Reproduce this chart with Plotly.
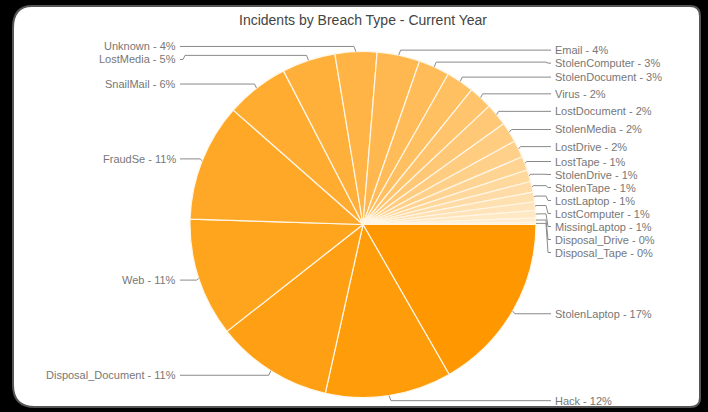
import math
import plotly.graph_objects as go

# ---- data ----
categories = ["StolenLaptop", "Hack", "Disposal_Document", "Web", "FraudSe", "SnailMail",
              "LostMedia", "Unknown", "Email", "StolenComputer", "StolenDocument", "Virus",
              "LostDocument", "StolenMedia", "LostDrive", "LostTape", "StolenDrive",
              "StolenTape", "LostLaptop", "LostComputer", "MissingLaptop",
              "Disposal_Drive", "Disposal_Tape"]
values = [16.7, 11.8, 10.9, 11.1, 11.0, 5.9, 5.0, 3.9, 4.0, 2.9, 2.6, 2.2, 2.1, 1.9, 1.6,
          1.3, 1.1, 1.0, 0.9, 0.8, 0.7, 0.4, 0.2]
pct_labels = [17, 12, 11, 11, 11, 6, 5, 4, 4, 3, 3, 2, 2, 2, 2, 1, 1, 1, 1, 1, 1, 0, 0]
title_text = "Incidents by Breach Type - Current Year"

# ---- layout constants (pixels) ----
W, H = 708, 412
CX, CY, R = 363, 224.5, 173
LBL_R = 1.03
RIGHT_X, LEFT_X = 553, 178
MIN_GAP = 13
LINE_COLOR = "#8a8a8a"
TEXT_COLOR = "#777777"
FONT = "Liberation Sans, Arial, sans-serif"

def px(x):
    return x / W

def py(y):
    return 1 - y / H

# colours: dark orange to pale cream by slice index
n = len(values)
c0, c1 = (255, 152, 0), (255, 240, 216)
colors = []
for i in range(n):
    t = i / (n - 1)
    colors.append("rgb(%d,%d,%d)" % tuple(round(a + (b - a) * t) for a, b in zip(c0, c1)))

fig = go.Figure()
fig.add_trace(go.Pie(
    labels=categories, values=values, sort=False, direction="clockwise", rotation=90,
    textinfo="none", hoverinfo="label+percent",
    marker=dict(colors=colors, line=dict(color="#FFF6E6", width=1.2)),
    domain=dict(x=[px(CX - R), px(CX + R)], y=[py(CY + R), py(CY - R)]),
    showlegend=False,
))

# compute label geometry from data
total = sum(values)
items = []
cum = 0.0
for name, v, p in zip(categories, values, pct_labels):
    mid = (cum + v / 2) / total * 2 * math.pi
    cum += v
    ex, ey = CX + R * math.cos(mid), CY + R * math.sin(mid)
    ny = CY + LBL_R * R * math.sin(mid)
    side = 1 if math.cos(mid) >= 0 else -1
    items.append(dict(name=name, p=p, ex=ex, ey=ey, ny=ny, side=side))

for side in (1, -1):
    grp = sorted([it for it in items if it["side"] == side], key=lambda d: d["ny"])
    prev = None
    for it in grp:
        y = it["ny"] if prev is None else max(it["ny"], prev + MIN_GAP)
        it["ly"] = y
        prev = y

TOP, BOT, LFT, RGT = 6, 407, 13, 700
shapes = [dict(type="path", xref="paper", yref="paper", layer="below",
               path=(f"M {px(32)} {py(TOP)} L {px(RGT-10)} {py(TOP)} Q {px(RGT)} {py(TOP)} {px(RGT)} {py(TOP+10)} "
                     f"L {px(RGT)} {py(BOT-9)} Q {px(RGT)} {py(BOT)} {px(RGT-10)} {py(BOT)} "
                     f"L {px(LFT+22)} {py(BOT)} Q {px(LFT)} {py(BOT)} {px(LFT)} {py(BOT-22)} "
                     f"L {px(LFT)} {py(TOP+22)} Q {px(LFT)} {py(TOP)} {px(32)} {py(TOP)} Z"),
               fillcolor="white", line=dict(color="#555555", width=2))]
annotations = []
for it in items:
    s = it["side"]
    lx = RIGHT_X if s == 1 else LEFT_X
    pts = [(it["ex"], it["ey"]),
           (it["ex"] + s * 2, it["ny"]),
           (lx - s * 7, it["ny"]),
           (lx - s * 5, it["ly"]),
           (lx - s * 2, it["ly"])]
    path = "M " + " L ".join(f"{px(x)} {py(y)}" for x, y in pts)
    shapes.append(dict(type="path", xref="paper", yref="paper", path=path,
                       line=dict(color=LINE_COLOR, width=1)))
    annotations.append(dict(xref="paper", yref="paper", x=px(lx), y=py(it["ly"]),
                            text=f"{it['name']} - {it['p']}%", showarrow=False,
                            xanchor="left" if s == 1 else "right", yanchor="middle",
                            font=dict(family=FONT, size=11, color=TEXT_COLOR)))

annotations.append(dict(xref="paper", yref="paper", x=px(CX), y=py(20), text=title_text,
                        showarrow=False, xanchor="center", yanchor="middle",
                        font=dict(family=FONT, size=14, color="#444444")))

fig.update_layout(width=W, height=H, margin=dict(l=0, r=0, t=0, b=0),
                  paper_bgcolor="black", plot_bgcolor="black",
                  shapes=shapes, annotations=annotations)
fig.write_html("out.html")
